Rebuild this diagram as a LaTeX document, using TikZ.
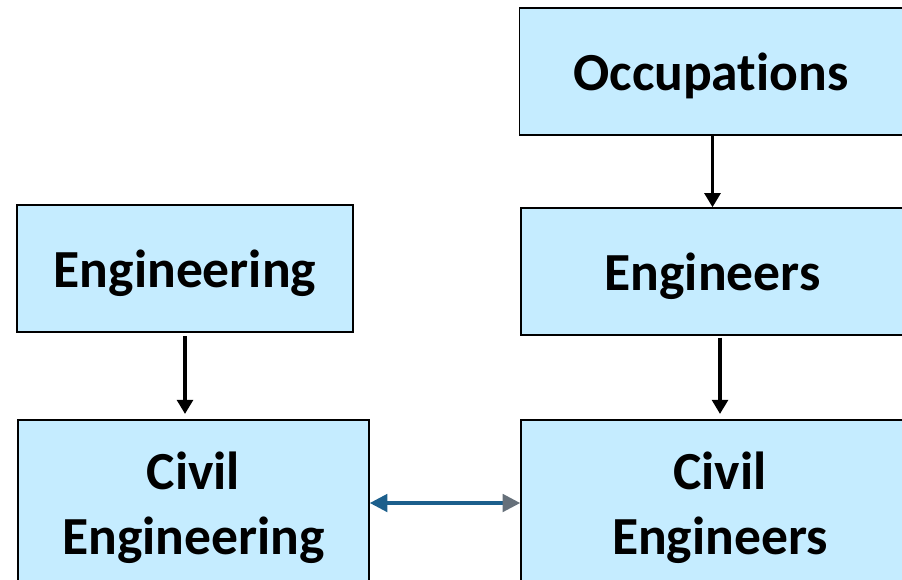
\documentclass[tikz,border=0pt]{standalone}
\usepackage{fontspec}
\setmainfont{Carlito}[Ligatures={NoCommon}]
\usetikzlibrary{arrows.meta}
\definecolor{boxfill}{HTML}{C5ECFF}
\definecolor{linkblue}{HTML}{1C5F8C}
\definecolor{tipgray}{HTML}{66707A}

\begin{document}
\begin{tikzpicture}[x=0.02cm, y=-0.02cm,
		box/.style={draw, line width=0.9pt, fill=boxfill, inner sep=0pt, align=center,
			text depth=0pt, font=\fontsize{30.5}{37}\selectfont\bfseries},
		arr/.style={line width=1.8pt, -{Triangle[length=8pt, width=9pt]}}
		]
	\useasboundingbox (0,0) rectangle (902,579);
	\clip (0,0) rectangle (902,579);
	\node [box, minimum width=383*0.02cm, minimum height=127*0.02cm] (occ) at (711,71.5) {Occupations};
	\node [box, minimum width=336*0.02cm, minimum height=127*0.02cm] (eng) at (185,268.5) {Engineering};
	\node [box, minimum width=383*0.02cm, minimum height=127*0.02cm] (engs) at (712.5,271.5) {Engineers};
	\node [box, minimum width=351*0.02cm, minimum height=166*0.02cm] (ceng) at (193.5,503) {Civil\\Engineering};
	\node [box, minimum width=398*0.02cm, minimum height=166*0.02cm] (cengs) at (720,503) {Civil\\Engineers};
	\draw [arr] (occ.south -| engs.north) -- (engs.north);
	\draw [arr, shorten <=2pt, shorten >=3pt] (eng.south) -- (eng.south |- ceng.north);
	\draw [arr, shorten <=1pt, shorten >=3pt] (engs.south -| cengs.north) -- (cengs.north);
	\draw [linkblue, line width=1.8pt,
		{Triangle[length=10pt, width=10pt]}-{Triangle[length=10pt, width=10pt, color=tipgray]}]
		(ceng.east) -- (cengs.west);
\end{tikzpicture}
\end{document}
